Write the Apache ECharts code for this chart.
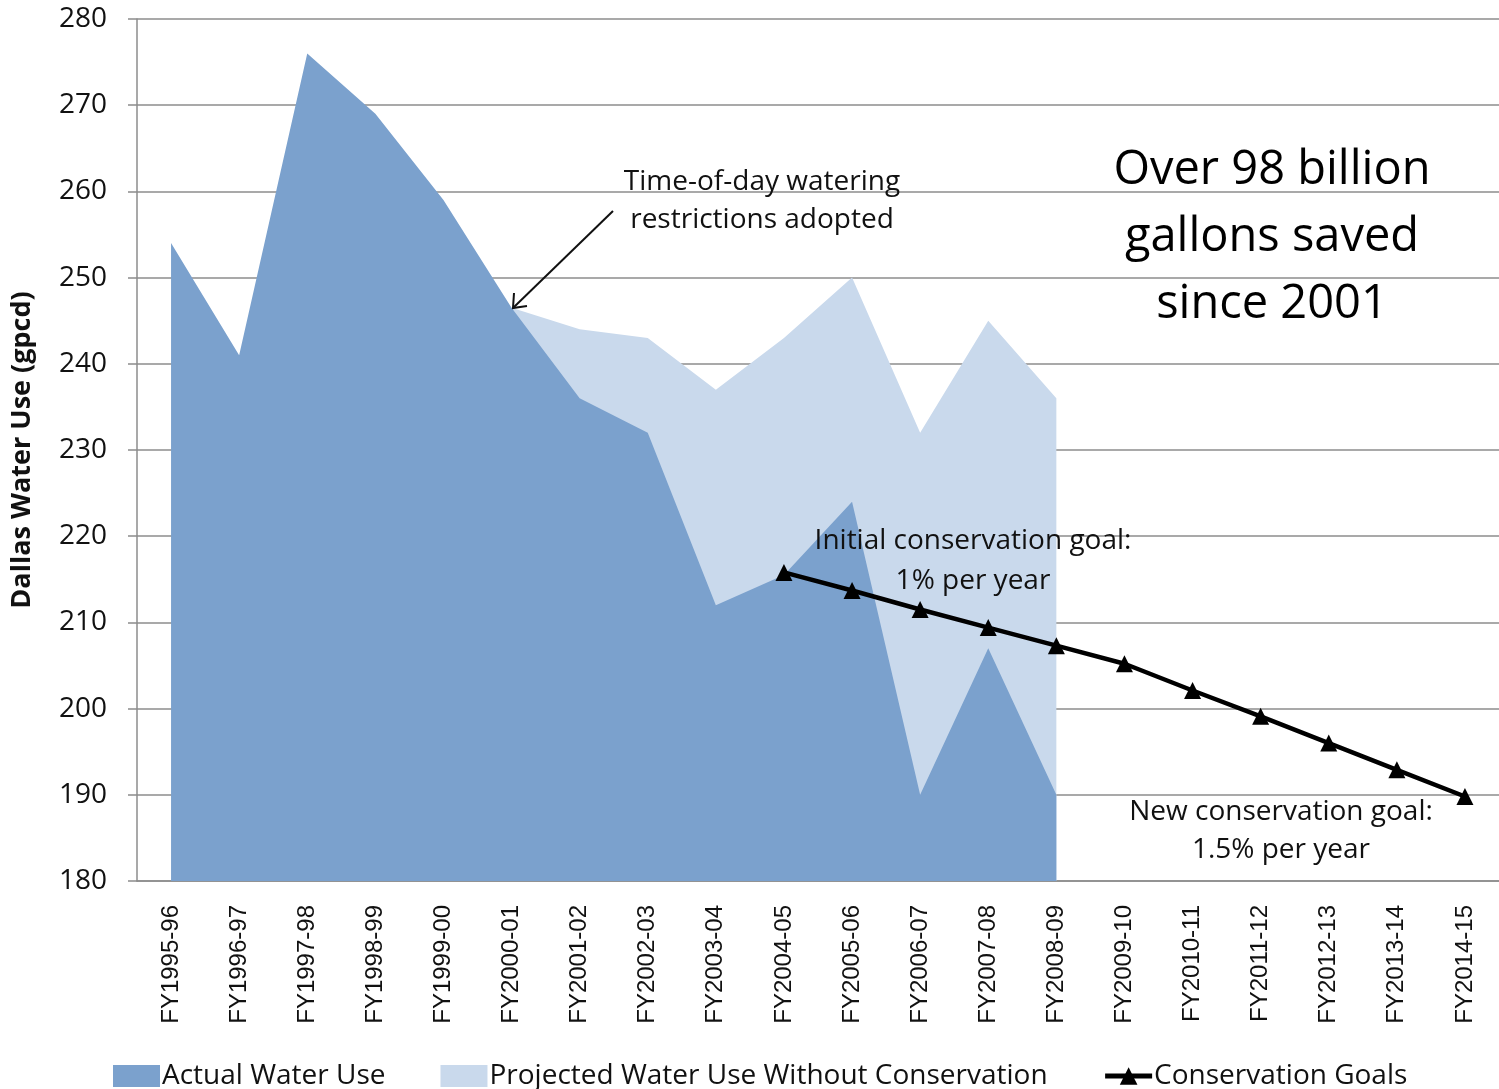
<!DOCTYPE html>
<html>
<head>
<meta charset="utf-8">
<script src="https://cdn.jsdelivr.net/npm/echarts@6/dist/echarts.min.js"></script>
<style>
html,body{margin:0;padding:0;background:#fff;}
#main{width:1499px;height:1089px;}
</style>
</head>
<body>
<div id="main"></div>
<script>
var years = ['FY1995-96','FY1996-97','FY1997-98','FY1998-99','FY1999-00','FY2000-01','FY2001-02',
  'FY2002-03','FY2003-04','FY2004-05','FY2005-06','FY2006-07','FY2007-08','FY2008-09',
  'FY2009-10','FY2010-11','FY2011-12','FY2012-13','FY2013-14','FY2014-15'];
var actualUse = [254,241,276,269,259,246.5,236,232,212,215.5,224,190,207,190,null,null,null,null,null,null];
var projectedUse = [null,null,null,null,null,246.5,244,243,237,243,250,232,245,236,null,null,null,null,null,null];
var goals = [null,null,null,null,null,null,null,null,null,215.8,213.7,211.5,209.4,207.3,205.2,202.1,199.1,196.0,192.9,189.8];

var fam = '"Open Sans", sans-serif';
var myChart = echarts.init(document.getElementById('main'));
var option = {
  animation: false,
  grid: {left: 137, top: 19, width: 1363, height: 862},
  legend: {
    left: 108, top: 1057,
    itemWidth: 47, itemHeight: 22, itemGap: 55,
    textStyle: {fontFamily: fam, fontSize: 28, color: '#111', padding: [0,0,0,-3]},
    data: [
      {name: 'Actual Water Use', icon: 'rect'},
      {name: 'Projected Water Use Without Conservation', icon: 'rect'},
      {name: 'Conservation Goals', lineStyle: {width: 5, color: '#000'}, itemStyle: {color: '#000'}}
    ]
  },
  xAxis: {
    type: 'category',
    data: years,
    boundaryGap: true,
    axisLine: {lineStyle: {color: '#8c8c8c', width: 1.5}},
    axisTick: {length: 9, lineStyle: {color: '#8c8c8c', width: 1.5}},
    axisLabel: {rotate: 90, margin: 24, fontFamily: '"Liberation Sans", Arial', fontSize: 24, color: '#111', interval: 0}
  },
  yAxis: {
    type: 'value',
    min: 180, max: 280, interval: 10,
    name: 'Dallas Water Use (gpcd)',
    nameLocation: 'middle',
    nameGap: 101,
    nameTextStyle: {fontFamily: fam, fontSize: 27, fontWeight: 'bold', color: '#111'},
    axisLine: {show: true, lineStyle: {color: '#8c8c8c', width: 1.5}},
    axisTick: {show: true, length: 9, lineStyle: {color: '#8c8c8c', width: 1.5}},
    axisLabel: {margin: 30, fontFamily: fam, fontSize: 28, color: '#111'},
    splitLine: {lineStyle: {color: '#8c8c8c', width: 1.5}}
  },
  series: [
    {
      name: 'Projected Water Use Without Conservation',
      type: 'line',
      data: projectedUse,
      symbol: 'none',
      lineStyle: {width: 0},
      itemStyle: {color: '#c9d9ec'},
      areaStyle: {color: '#c9d9ec', opacity: 1, origin: 'start'},
      z: 1
    },
    {
      name: 'Actual Water Use',
      type: 'line',
      data: actualUse,
      symbol: 'none',
      lineStyle: {width: 0},
      itemStyle: {color: '#7ba1cd'},
      areaStyle: {color: '#7ba1cd', opacity: 1, origin: 'start'},
      z: 2
    },
    {
      name: 'Conservation Goals',
      type: 'line',
      data: goals,
      symbol: 'triangle',
      symbolSize: 17,
      lineStyle: {color: '#000', width: 4.5},
      itemStyle: {color: '#000'},
      z: 5
    }
  ],
  graphic: [
    {type: 'text', x: 762, y: 201, z: 10, style: {text: 'Time-of-day watering\nrestrictions adopted', font: '28px ' + fam, fill: '#111', align: 'center', verticalAlign: 'middle', lineHeight: 38}},
    {type: 'line', z: 10, shape: {x1: 613, y1: 211, x2: 513, y2: 308}, style: {stroke: '#111', lineWidth: 2}},
    {type: 'polyline', z: 10, shape: {points: [[514, 293], [513, 308], [527, 306]]}, style: {stroke: '#111', lineWidth: 2, fill: null}},
    {type: 'text', x: 1272, y: 238, z: 10, style: {text: 'Over 98 billion\ngallons saved\nsince 2001', font: '47px ' + fam, fill: '#000', align: 'center', verticalAlign: 'middle', lineHeight: 67}},
    {type: 'text', x: 973, y: 561, z: 10, style: {text: 'Initial conservation goal:\n1% per year', font: '28px ' + fam, fill: '#111', align: 'center', verticalAlign: 'middle', lineHeight: 40}},
    {type: 'text', x: 1281, y: 831, z: 10, style: {text: 'New conservation goal:\n1.5% per year', font: '28px ' + fam, fill: '#111', align: 'center', verticalAlign: 'middle', lineHeight: 38}}
  ]
};
myChart.setOption(option);
</script>
</body>
</html>
